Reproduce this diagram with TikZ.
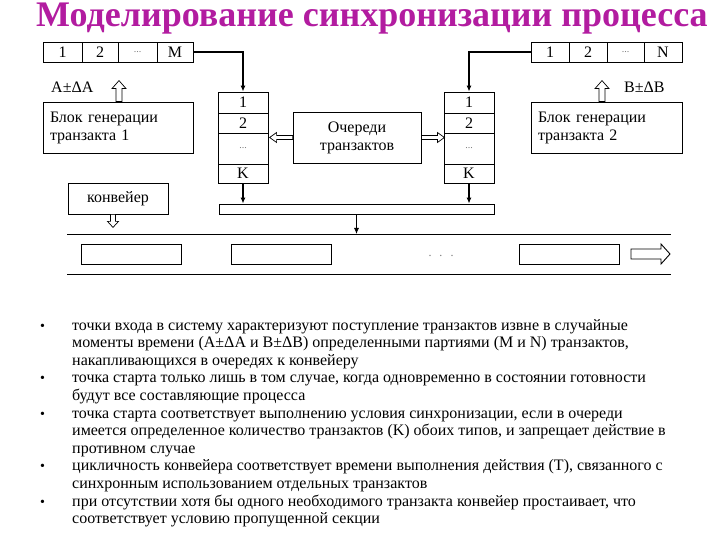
\documentclass[tikz,border=0pt]{standalone}
\usepackage{fontspec}
\setmainfont{Liberation Serif}
\usetikzlibrary{arrows.meta}
\definecolor{titlec}{RGB}{178,28,160}
\definecolor{dotc}{RGB}{120,120,120}
\begin{document}
\begin{tikzpicture}[x=1pt,y=-1pt,
  lbl/.style={font=\fontsize{16}{18}\selectfont},
  cell/.style={draw,line width=0.8pt,minimum height=20pt,inner sep=0pt,lbl},
  qcell/.style={draw,line width=0.8pt,minimum width=50pt,inner sep=0pt,lbl},
  bigbox/.style={draw,line width=0.8pt,inner sep=0pt,lbl},
  conv/.style={draw,line width=0.9pt,minimum width=100pt,minimum height=20pt,inner sep=0pt},
  conn/.style={line width=1.2pt,-{Latex[length=6pt,width=5pt]}},
  thinconn/.style={line width=0.8pt,-{Latex[length=6pt,width=5pt]}},
  hollow/.style={draw,line width=0.7pt,fill=white,line join=miter},
  txt/.style={anchor=base west,inner sep=0pt,font=\fontsize{16}{17}\selectfont},
  bul/.style={anchor=base west,inner sep=0pt,font=\fontsize{14}{17}\selectfont},
  dts/.style={text=dotc,inner sep=0pt,font=\fontsize{12}{12}\selectfont}
]
\useasboundingbox (0,0) rectangle (720,540);

% title
\node[text=titlec,font=\fontsize{36}{36}\bfseries\selectfont,inner sep=0pt,anchor=base] (title) at (372,27) {Моделирование синхронизации процесса};

% left strip
\node[cell,minimum width=39pt] (l1) at (62.5,52) {1};
\node[cell,minimum width=36pt] (l2) at (100,52) {2};
\node[cell,minimum width=39pt] (l3) at (137.5,52) {\textcolor{dotc}{\fontsize{10}{10}\selectfont...}};
\node[cell,minimum width=36pt] (l4) at (175,52) {M};

% right strip
\node[cell,minimum width=38pt] (r1) at (550,52) {1};
\node[cell,minimum width=38pt] (r2) at (588,52) {2};
\node[cell,minimum width=37pt] (r3) at (625.5,52) {\textcolor{dotc}{\fontsize{10}{10}\selectfont...}};
\node[cell,minimum width=38pt] (r4) at (663,52) {N};

% left queue column
\node[qcell,minimum height=21pt] (qa1) at (243,102.5) {1};
\node[qcell,minimum height=20pt] (qa2) at (243,123) {2};
\node[qcell,minimum height=31pt] (qa3) at (243,148.5) {\textcolor{dotc}{\fontsize{10}{10}\selectfont...}};
\node[qcell,minimum height=19pt] (qa4) at (243,173.5) {K};

% right queue column
\node[qcell,minimum height=21pt] (qb1) at (469,102.5) {1};
\node[qcell,minimum height=20pt] (qb2) at (469,123) {2};
\node[qcell,minimum height=31pt] (qb3) at (469,148.5) {\textcolor{dotc}{\fontsize{10}{10}\selectfont...}};
\node[qcell,minimum height=19pt] (qb4) at (469,173.5) {K};

% generator boxes
\node[bigbox,minimum width=150pt,minimum height=51pt,text width=136pt,align=left] (gA) at (118,127.5) {Блок генерации\\транзакта 1};
\node[bigbox,minimum width=151pt,minimum height=51pt,text width=137pt,align=left] (gB) at (606.5,127.5) {Блок генерации\\транзакта 2};

% queues box
\node[bigbox,minimum width=128pt,minimum height=51pt,align=center] (oq) at (357,137.5) {Очереди\\транзактов};

% labels
\node[lbl,anchor=west,inner sep=0pt] (la) at (51,87) {A±ΔA};
\node[lbl,anchor=west,inner sep=0pt] (lb) at (624,87) {B±ΔB};

% conveyor label box
\node[bigbox,minimum width=100pt,minimum height=31pt] (kv) at (118,198.5) {конвейер};

% bar
\node[draw,line width=0.8pt,minimum width=275pt,minimum height=10pt,inner sep=0pt] (bar) at (356.5,209) {};

% conveyor lines
\coordinate (tl) at (67,234);
\coordinate (tr) at (671,234);
\coordinate (bl) at (67,274);
\coordinate (br) at (671,274);
\draw[line width=1pt] (tl) -- (tr);
\draw[line width=1pt] (bl) -- (br);

% conveyor cells
\node[conv] (c1) at (131,254) {};
\node[conv] (c2) at (281,254) {};
\node[conv] (c3) at (569,254) {};
\node[dts] (dd) at (441,256) {.\hspace{8pt}.\hspace{8pt}.};

% connectors
\draw[conn] (l4.east) -| (qa1.north);
\draw[conn] (r1.west) -| (qb1.north);
\draw[conn] (qa4.south) -- (qa4.south |- bar.north);
\draw[conn] (qb4.south) -- (qb4.south |- bar.north);
\draw[thinconn] (bar.south) -- (bar.south |- tl);

% hollow block arrows
\draw[hollow] ([xshift=1pt]gA.north) ++(-3,0) -- ++(0,-13) -- ++(-4,0) -- ++(7,-8) -- ++(7,8) -- ++(-4,0) -- ++(0,13) -- cycle;
\draw[hollow] ([xshift=-4.5pt]gB.north) ++(-3,0) -- ++(0,-13) -- ++(-4,0) -- ++(7,-8) -- ++(7,8) -- ++(-4,0) -- ++(0,13) -- cycle;
\draw[hollow] (oq.west) ++(0,-2) -- ++(-16,0) -- ++(0,-3) -- ++(-7,5) -- ++(7,5) -- ++(0,-3) -- ++(16,0) -- cycle;
\draw[hollow] (oq.east) ++(0,-2) -- ++(16,0) -- ++(0,-3) -- ++(7,5) -- ++(-7,5) -- ++(0,-3) -- ++(-16,0) -- cycle;
\draw[hollow] ([xshift=-5pt]kv.south) ++(-2.5,0) -- ++(0,7) -- ++(-3,0) -- ++(5.5,6) -- ++(5.5,-6) -- ++(-3,0) -- ++(0,-7) -- cycle;
\draw[hollow,line width=0.9pt] (631,249) -- (661,249) -- (661,244) -- (670,254) -- (661,264) -- (661,259) -- (631,259) -- cycle;

% bullet text
\foreach \y in {0,3,5,8,10} {
  \node[bul] at (40,330+17.6*\y) {•};
}
\node[txt] (t1) at (72,330) {точки входа в систему характеризуют поступление транзактов извне в случайные};
\node[txt] (t2) at (72,347.6) {моменты времени (A±ΔA и B±ΔB) определенными партиями (M и N) транзактов,};
\node[txt] (t3) at (72,365.2) {накапливающихся в очередях к конвейеру};
\node[txt] (t4) at (72,382.8) {точка старта только лишь в том случае, когда одновременно в состоянии готовности};
\node[txt] (t5) at (72,400.4) {будут все составляющие процесса};
\node[txt] (t6) at (72,418) {точка старта соответствует выполнению условия синхронизации, если в очереди};
\node[txt] (t7) at (72,435.6) {имеется определенное количество транзактов (K) обоих типов, и запрещает действие в};
\node[txt] (t8) at (72,453.2) {противном случае};
\node[txt] (t9) at (72,470.8) {цикличность конвейера соответствует времени выполнения действия (T), связанного с};
\node[txt] (t10) at (72,488.4) {синхронным использованием отдельных транзактов};
\node[txt] (t11) at (72,506) {при отсутствии хотя бы одного необходимого транзакта конвейер простаивает, что};
\node[txt] (t12) at (72,523.6) {соответствует условию пропущенной секции};
\end{tikzpicture}
\end{document}
